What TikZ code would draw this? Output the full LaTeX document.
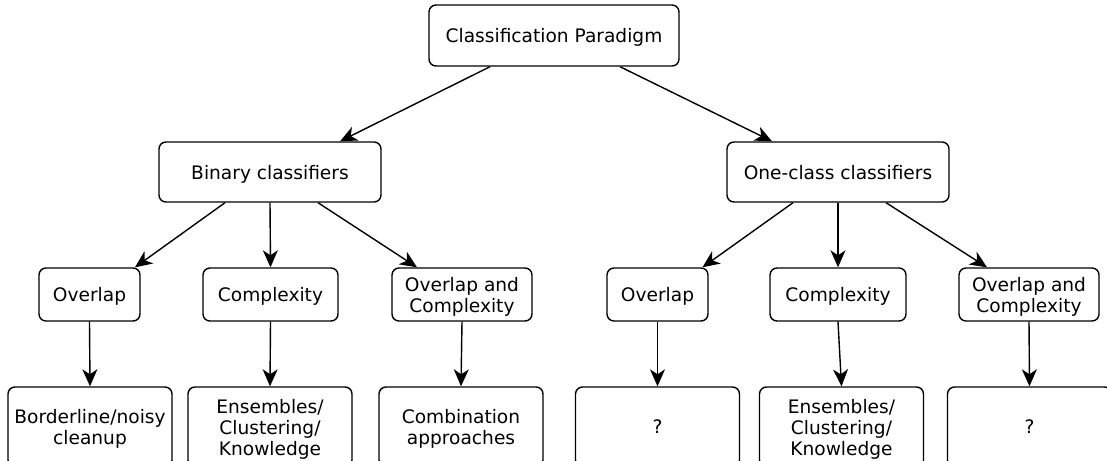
\documentclass[tikz,border=0pt]{standalone}
\usepackage{fontspec}
\setmainfont{DejaVu Sans}
\usetikzlibrary{arrows.meta}
\begin{document}
\begin{tikzpicture}[x=1pt,y=-1pt,
  box/.style={draw,line width=1.4pt,rounded corners=7pt,inner sep=0pt,align=center,
    text depth=0pt,font=\fontsize{18.6}{21}\selectfont},
  arr/.style={line width=1.4pt,-{Stealth[length=17pt,width=15pt,inset=5pt]}}]
\useasboundingbox (0,0) rectangle (1107,460);
% level 1
\node[box,minimum width=250pt,minimum height=61pt] (top) at (554,35.5) {Classification Paradigm};
% level 2
\node[box,minimum width=222pt,minimum height=60pt] (bin) at (270,172) {Binary classifiers};
\node[box,minimum width=222pt,minimum height=60pt] (one) at (838,172) {One-class classifiers};
% level 3
\node[box,minimum width=101pt,minimum height=53pt] (bo) at (89.5,294.5) {Overlap};
\node[box,minimum width=135pt,minimum height=53pt] (bc) at (270.5,294.5) {Complexity};
\node[box,minimum width=140pt,minimum height=53pt] (boc) at (462,294.5) {Overlap and\\Complexity};
\node[box,minimum width=101pt,minimum height=53pt] (oo) at (657.5,294.5) {Overlap};
\node[box,minimum width=136pt,minimum height=53pt] (oc) at (838,294.5) {Complexity};
\node[box,minimum width=140pt,minimum height=53pt] (ooc) at (1029,294.5) {Overlap and\\Complexity};
% level 4
\node[box,minimum width=164pt,minimum height=80pt] (b1) at (90,427) {Borderline/noisy\\cleanup};
\node[box,minimum width=164pt,minimum height=80pt] (b2) at (270,427) {Ensembles/\\Clustering/\\Knowledge};
\node[box,minimum width=164pt,minimum height=80pt] (b3) at (461,427) {Combination\\approaches};
\node[box,minimum width=164pt,minimum height=80pt] (o1) at (657.5,427) {?};
\node[box,minimum width=164pt,minimum height=80pt] (o2) at (841.5,427) {Ensembles/\\Clustering/\\Knowledge};
\node[box,minimum width=164pt,minimum height=80pt] (o3) at (1029.5,427) {?};
% connectors
\draw[arr] ([xshift=-64pt]top.south) -- ([xshift=70pt]bin.north);
\draw[arr] ([xshift=66pt]top.south) -- ([xshift=-66pt]one.north);
\draw[arr] ([xshift=-45pt]bin.south) -- ([xshift=45.5pt]bo.north);
\draw[arr] (bin.south) -- (bc.north);
\draw[arr] ([xshift=48pt]bin.south) -- ([xshift=-45pt]boc.north);
\draw[arr] ([xshift=-45pt]one.south) -- ([xshift=45pt]oo.north);
\draw[arr] (one.south) -- (oc.north);
\draw[arr] ([xshift=48pt]one.south) -- ([xshift=-42pt]ooc.north);
\draw[arr] (bo.south) -- (b1.north);
\draw[arr] (bc.south) -- (b2.north);
\draw[arr] (boc.south) -- (b3.north);
\draw[arr] (oo.south) -- (o1.north);
\draw[arr] (oc.south) -- (o2.north);
\draw[arr] (ooc.south) -- (o3.north);
\end{tikzpicture}
\end{document}
